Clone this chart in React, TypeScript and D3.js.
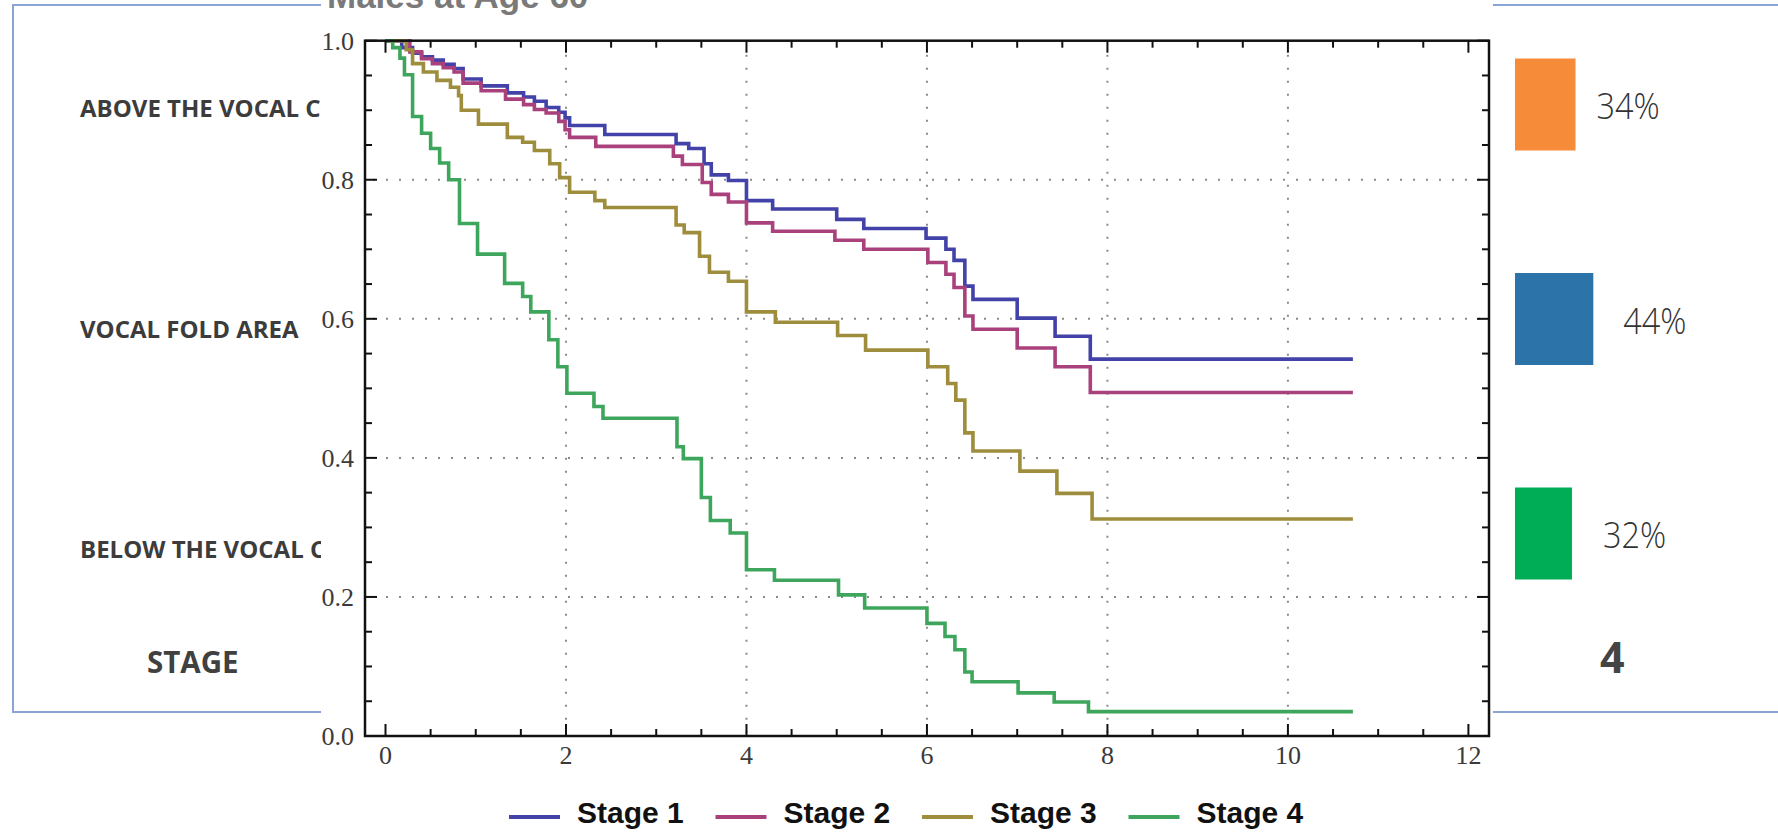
import React from "react";
import * as d3 from "d3";

// ---------- data ----------
const chartTitle = "Males at Age 60";
const stageNames = ["Stage 1", "Stage 2", "Stage 3", "Stage 4"];
const stageColors = ["#4242A8", "#A9427C", "#9D8D3D", "#3EA65C"];

const stage1Times = [0, 0.18, 0.3, 0.4, 0.52, 0.64, 0.76, 0.86, 1.06, 1.35, 1.53, 1.65, 1.78, 1.92, 1.99, 2.04, 2.43, 3.22, 3.36, 3.53, 3.61, 3.8, 4.0, 4.29, 5.0, 5.3, 5.99, 6.21, 6.3, 6.42, 6.51, 7.0, 7.42, 7.81];
const stage1Surv = [1, 0.99, 0.982, 0.977, 0.972, 0.966, 0.96, 0.945, 0.935, 0.925, 0.919, 0.913, 0.904, 0.897, 0.889, 0.878, 0.865, 0.852, 0.845, 0.823, 0.807, 0.799, 0.77, 0.758, 0.743, 0.73, 0.716, 0.7, 0.684, 0.647, 0.628, 0.601, 0.575, 0.542];

const stage2Times = [0, 0.27, 0.4, 0.52, 0.64, 0.76, 0.86, 1.06, 1.33, 1.53, 1.65, 1.78, 1.92, 1.99, 2.04, 2.33, 3.19, 3.29, 3.51, 3.61, 3.8, 4.0, 4.29, 4.98, 5.3, 6.01, 6.21, 6.3, 6.42, 6.51, 7.0, 7.42, 7.81];
const stage2Surv = [1, 0.984, 0.974, 0.967, 0.961, 0.955, 0.939, 0.928, 0.916, 0.908, 0.901, 0.896, 0.884, 0.872, 0.861, 0.848, 0.834, 0.822, 0.796, 0.779, 0.768, 0.738, 0.726, 0.713, 0.7, 0.681, 0.664, 0.645, 0.604, 0.585, 0.558, 0.531, 0.494];

const stage3Times = [0, 0.23, 0.3, 0.42, 0.57, 0.72, 0.81, 0.84, 1.03, 1.35, 1.52, 1.65, 1.82, 1.93, 2.04, 2.32, 2.43, 3.22, 3.31, 3.48, 3.59, 3.8, 4.0, 4.32, 5.01, 5.32, 6.01, 6.23, 6.32, 6.42, 6.51, 7.03, 7.44, 7.83];
const stage3Surv = [1, 0.987, 0.967, 0.955, 0.943, 0.933, 0.921, 0.9, 0.88, 0.861, 0.854, 0.842, 0.823, 0.803, 0.782, 0.77, 0.76, 0.735, 0.724, 0.69, 0.667, 0.654, 0.61, 0.595, 0.576, 0.555, 0.531, 0.507, 0.483, 0.436, 0.41, 0.381, 0.349, 0.312];

const stage4Times = [0, 0.08, 0.16, 0.21, 0.3, 0.4, 0.5, 0.6, 0.7, 0.82, 1.02, 1.32, 1.52, 1.61, 1.81, 1.91, 2.01, 2.31, 2.41, 3.23, 3.3, 3.5, 3.6, 3.82, 4.0, 4.31, 5.02, 5.31, 6.0, 6.2, 6.31, 6.42, 6.5, 7.01, 7.41, 7.79];
const stage4Surv = [1, 0.99, 0.975, 0.951, 0.891, 0.867, 0.845, 0.824, 0.8, 0.737, 0.693, 0.651, 0.632, 0.61, 0.57, 0.531, 0.493, 0.474, 0.457, 0.416, 0.399, 0.343, 0.31, 0.292, 0.239, 0.224, 0.203, 0.184, 0.162, 0.143, 0.124, 0.092, 0.078, 0.062, 0.049, 0.035];

const followUpEnd = 10.72;
const xTicks = [0, 2, 4, 6, 8, 10, 12];
const yTicks = [0, 0.2, 0.4, 0.6, 0.8, 1.0];
const xGrid = [2, 4, 6, 8, 10];
const yGrid = [0.2, 0.4, 0.6, 0.8];

// background slide content
const slideLabels = ["ABOVE THE VOCAL CORDS", "VOCAL FOLD AREA", "BELOW THE VOCAL CORDS"];
const slideValues = [34, 44, 32];
const slideColors = ["#F68B3A", "#2B73A8", "#00AD57"];
const slideFooterLabel = "STAGE";
const slideFooterValue = "4";

// ---------- layout ----------
const W = 1778;
const H = 834;
const plot = { left: 365, right: 1489, top: 40.7, bottom: 736 };
const overlay = { x0: 321, x1: 1493 };

export default function App() {
  const x = d3.scaleLinear().domain([0, 12]).range([385.5, 1468.4]);
  const y = d3.scaleLinear().domain([0, 1]).range([plot.bottom, plot.top]);

  const series = [
    [stage1Times, stage1Surv],
    [stage2Times, stage2Surv],
    [stage3Times, stage3Surv],
    [stage4Times, stage4Surv],
  ].map(([ts, ss]) => {
    const pts: [number, number][] = ts.map((t, i) => [t, ss[i]]);
    pts.push([followUpEnd, ss[ss.length - 1]]);
    return pts;
  });

  const line = d3
    .line<[number, number]>()
    .x((d) => x(d[0]))
    .y((d) => y(d[1]))
    .curve(d3.curveStepAfter);

  const xMinor = d3.range(0, 12.001, 0.5);
  const yMinor = d3.range(0, 1.0001, 0.05);
  const isMajorX = (v: number) => Math.abs(v / 2 - Math.round(v / 2)) < 1e-6;
  const isMajorY = (v: number) => Math.abs(v / 0.2 - Math.round(v / 0.2)) < 1e-6;

  // slide bar widths proportional to the percentages
  const wScale = d3.scaleLinear().domain([0, 100]).range([0, 178]);
  const rowCenters = [104.5, 319, 533.5];
  const barHeight = 92;
  const labelBaselines = [117, 338, 558];
  const pctOffsets = [21, 30, 31];

  const legendX = d3.scaleBand().domain(stageNames).range([509, 509 + 206.5 * 4]);

  const sans = "'Open Sans', 'Noto Sans', sans-serif";
  const serif = "'Liberation Serif', 'DejaVu Serif', serif";
  const arial = "'Liberation Sans', Arial, sans-serif";

  return (
    <svg width={W} height={H} style={{ position: "absolute", left: 0, top: 0, background: "#fff" }}>
      {/* ---------- background slide ---------- */}
      <rect x={13} y={5} width={W + 20} height={707} fill="#fff" stroke="#8AA4D6" strokeWidth={2} />
      {slideLabels.map((s, i) => (
        <text key={s} x={80} y={labelBaselines[i]} fontFamily={sans} fontWeight={700} fontSize={24} fill="#3c3c3c">
          {s}
        </text>
      ))}
      <text x={147} y={673} fontFamily={sans} fontWeight={700} fontSize={29.5} fill="#404040">
        {slideFooterLabel}
      </text>
      {slideValues.map((v, i) => (
        <g key={i}>
          <rect x={1515} y={rowCenters[i] - barHeight / 2} width={wScale(v)} height={barHeight} fill={slideColors[i]} />
          <text x={1515 + wScale(v) + pctOffsets[i]} y={rowCenters[i] + 15} fontFamily={sans} fontWeight={300} fontSize={36} fill="#333" transform={`translate(${(1515 + wScale(v) + pctOffsets[i]) * 0.1},0) scale(0.9,1)`} style={{ transformBox: "view-box" } as any}>
            {v}%
          </text>
        </g>
      ))}
      <text x={1600} y={673} fontFamily={sans} fontWeight={700} fontSize={43} fill="#444">
        {slideFooterValue}
      </text>

      {/* ---------- chart overlay ---------- */}
      <rect x={overlay.x0} y={0} width={overlay.x1 - overlay.x0} height={H} fill="#fff" />
      <text x={327} y={8} fontFamily={arial} fontWeight={700} fontSize={35} fill="#7a7a7a">
        {chartTitle}
      </text>

      {/* grid */}
      {xGrid.map((g) => (
        <line key={"xg" + g} x1={x(g)} x2={x(g)} y1={plot.top + 14} y2={plot.bottom} stroke="#8a8a8a" strokeWidth={2} strokeDasharray="2 11" />
      ))}
      {yGrid.map((g) => (
        <line key={"yg" + g} x1={plot.left + 8} x2={plot.right} y1={y(g)} y2={y(g)} stroke="#8a8a8a" strokeWidth={2} strokeDasharray="2 11" />
      ))}

      {/* curves */}
      {series.map((pts, i) => (
        <path key={stageNames[i]} d={line(pts) || ""} fill="none" stroke={stageColors[i]} strokeWidth={3.6} strokeLinejoin="miter" />
      ))}

      {/* ticks */}
      {xMinor.map((v) => {
        const len = isMajorX(v) ? 12 : 7;
        return (
          <g key={"xt" + v}>
            <line x1={x(v)} x2={x(v)} y1={plot.bottom} y2={plot.bottom - len} stroke="#111" strokeWidth={2} />
            <line x1={x(v)} x2={x(v)} y1={plot.top} y2={plot.top + len} stroke="#111" strokeWidth={2} />
          </g>
        );
      })}
      {yMinor.map((v) => {
        const len = isMajorY(v) ? 12 : 7;
        return (
          <g key={"yt" + v}>
            <line x1={plot.left} x2={plot.left + len} y1={y(v)} y2={y(v)} stroke="#111" strokeWidth={2} />
            <line x1={plot.right} x2={plot.right - len} y1={y(v)} y2={y(v)} stroke="#111" strokeWidth={2} />
          </g>
        );
      })}

      {/* frame */}
      <rect x={plot.left} y={plot.top} width={plot.right - plot.left} height={plot.bottom - plot.top} fill="none" stroke="#111" strokeWidth={2.5} />

      {/* tick labels */}
      {xTicks.map((t) => (
        <text key={"xl" + t} x={x(t)} y={764} textAnchor="middle" fontFamily={serif} fontSize={26} fill="#3a3a3a">
          {t}
        </text>
      ))}
      {yTicks.map((t) => (
        <text key={"yl" + t} x={354} y={y(t)} dy="0.35em" textAnchor="end" fontFamily={serif} fontSize={26} fill="#3a3a3a">
          {t.toFixed(1)}
        </text>
      ))}

      {/* legend */}
      {stageNames.map((s, i) => {
        const lx = legendX(s) as number;
        return (
          <g key={"lg" + s}>
            <line x1={lx} x2={lx + 51} y1={817} y2={817} stroke={stageColors[i]} strokeWidth={4} />
            <text x={lx + 68} y={823} fontFamily={arial} fontWeight={700} fontSize={30} fill="#111">
              {s}
            </text>
          </g>
        );
      })}
    </svg>
  );
}
